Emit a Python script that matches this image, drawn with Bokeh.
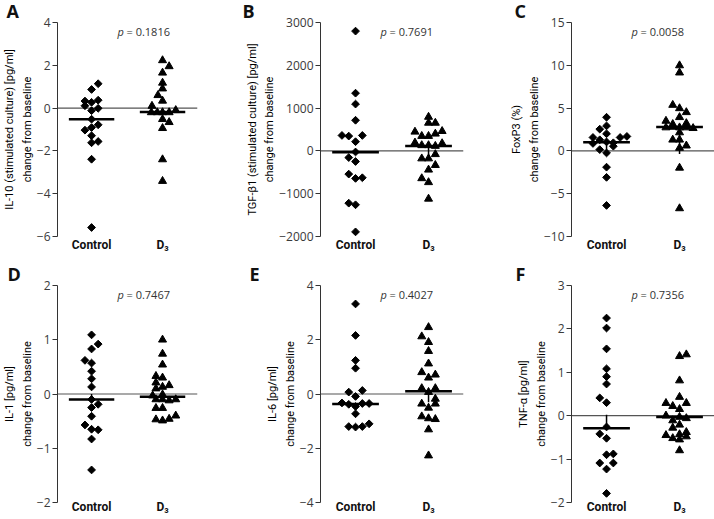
import math
from bokeh.plotting import figure
from bokeh.models import Range1d, FixedTicker, Span, Label, Title
from bokeh.layouts import column, row
from bokeh.embed import file_html
from bokeh.resources import INLINE

NAN = float("nan")
GROUPS = ["Control", "D\u2083"]

# ---- Panel A: IL-10 (stimulated culture)
A_ctrl = [1.14, 0.87, 0.33, 0.27, 0.37, 0.11, -0.01, -0.12, -0.52, -0.78, -1.03, -0.91, -1.29, -1.62, -1.56, -2.39, -5.58]
A_ctrl_slot = [1, 0, -1, 0, 1, -1, 1, 0, 0, 1, -1, 0, 0, 0, 1, 0, 0]
A_d3 = [2.23, 1.95, 1.65, 1.18, 0.91, 0.60, 0.34, 0.10, -0.10, -0.20, -0.20, -0.20, -0.20, -0.52, -0.66, -0.94, -2.40, -3.41]
A_d3_slot = [0, 1, 0, 0, 0, -0.7, 0, -1.6, 2, -1.7, -0.8, 0, 1, 0, 1, 0, 0, 0]
A_median = [-0.52, -0.18]
A_bar_lo = [-0.25, NAN]
A_bar_hi = [0.05, NAN]
A_ticks = [-6, -4, -2, 0, 2, 4]
A_p = "0.1816"
A_title = "IL-10 (stimulated culture) [pg/ml]\nchange from baseline"

# ---- Panel B: TGF-beta1 (stimulated culture)
B_ctrl = [2799, 1349, 1094, 716, 361, 346, 361, 215, -25, -156, -248, -542, -642, -627, -1221, -1259, -1892]
B_ctrl_slot = [0, 0, 0, 0, -2, -1, 1, 0, 0, -1, 0, -1, 0, 1, -1, 0, 0]
B_d3 = [793, 654, 654, 446, 461, 346, 346, 400, 191, 176, 130, 130, 114, -79, -179, -179, -333, -441, -642, -734, -1120]
B_d3_slot = [0, 0, 1, -2, 2, -1, 0, 1, -2, 2, -1, 0, 1, 1, -1, 0, 1, 0, -1, 0, 0]
B_median = [-30, 114]
B_bar_lo = [NAN, -130]
B_bar_hi = [NAN, 114]
B_ticks = [-2000, -1000, 0, 1000, 2000, 3000]
B_p = "0.7691"
B_title = "TGF-\u03b21 (stimulated culture) [pg/ml]\nchange from baseline"

# ---- Panel C: FoxP3
C_ctrl = [3.93, 2.92, 2.54, 2.00, 1.57, 1.57, 1.69, 1.30, 1.05, 0.95, 0.87, 0.55, 0.15, -0.24, -1.90, -3.09, -6.37]
C_ctrl_slot = [0, 0, -1, 0, -2, 2, 3, -1, 0, 1, -2, 1, -1, 0, 0, 0, 0]
C_d3 = [9.98, 9.14, 5.36, 4.97, 4.51, 3.93, 3.50, 3.12, 3.23, 2.73, 2.80, 2.73, 2.73, 2.65, 2.15, 1.30, 1.30, 0.61, 0.34, -1.98, -6.72]
C_d3_slot = [0, 0, -1, 0, 1, 0, -2, -1, 1, -2, -1, 0, 1, 2, 0, -1, 0, 1, 0, 0, 0]
C_median = [1.0, 2.8]
C_bar_lo = [-0.4, -0.35]
C_bar_hi = [1.0, 2.8]
C_ticks = [-10, -5, 0, 5, 10, 15]
C_p = "0.0058"
C_title = "FoxP3 (%)\nchange from baseline"

# ---- Panel D: IL-1
D_ctrl = [1.09, 0.92, 0.83, 0.62, 0.57, 0.42, 0.28, 0.13, -0.10, -0.19, -0.25, -0.41, -0.57, -0.65, -0.66, -0.83, -1.40]
D_ctrl_slot = [0, 1, 0, -1, 0, 0, 0, 0, 0, 1, 0, 0, -1, 0, 1, 0, 0]
D_d3 = [1.00, 0.74, 0.54, 0.33, 0.30, 0.21, 0.16, 0.10, 0.13, -0.03, -0.01, -0.10, -0.10, -0.12, -0.10, -0.26, -0.26, -0.47, -0.49, -0.46, -0.40]
D_d3_slot = [0, 0, 0, -1, 0, -1, 1, -1, 0, -1.5, 0, -1, 0, 1, 2, -1, 0, -1, 0, 1, 2]
D_median = [-0.10, -0.05]
D_bar_lo = [-0.12, NAN]
D_bar_hi = [0.0, NAN]
D_ticks = [-2, -1, 0, 1, 2]
D_p = "0.7467"
D_title = "IL-1 [pg/ml]\nchange from baseline"

# ---- Panel E: IL-6
E_ctrl = [3.32, 2.16, 1.24, 0.95, 0.07, 0.13, -0.09, -0.33, -0.38, -0.35, -0.35, -0.46, -0.73, -1.20, -1.22, -1.20, -1.10]
E_ctrl_slot = [0, 0, 0, 0, -1, 1, 0, -2, -1, 1, 2, 0, 0, -1, 0, 1, 2]
E_d3 = [2.46, 2.12, 1.91, 1.58, 1.12, 0.80, 0.71, 0.60, 0.21, 0.21, 0.07, -0.18, -0.36, -0.36, -0.51, -0.83, -0.90, -0.93, -1.31, -2.27]
E_d3_slot = [0, -1, 0, 0, 0, -1, 1, 0, -1, 1, 0, 1, -1, 1, 0, -1, 0, 1, 0, 0]
E_median = [-0.37, 0.10]
E_bar_lo = [NAN, -0.3]
E_bar_hi = [NAN, 0.1]
E_ticks = [-4, -2, 0, 2, 4]
E_p = "0.4027"
E_title = "IL-6 [pg/ml]\nchange from baseline"

# ---- Panel F: TNF-alpha
F_ctrl = [2.25, 2.02, 1.54, 1.08, 0.90, 0.73, 0.41, 0.30, -0.26, -0.42, -0.52, -0.90, -0.88, -1.09, -1.09, -1.23, -1.79]
F_ctrl_slot = [0, 0, 0, 0, 0, 0, -1, 0, 0, -1, 0, 0, 1, -1, 1, 0, 0]
F_d3 = [1.37, 1.41, 0.81, 0.43, 0.29, 0.29, 0.22, 0.15, 0.00, -0.11, -0.03, -0.06, -0.21, -0.28, -0.45, -0.43, -0.38, -0.52, -0.55, -0.48, -0.80]
F_d3_slot = [0, 1, 0, 0, -2, 1, -1, 0, -2, -1, 0, 1, 0, -1, -2, 0, 1, -1, 0, 1, 0]
F_median = [-0.29, -0.03]
F_bar_lo = [-0.29, NAN]
F_bar_hi = [0.02, NAN]
F_ticks = [-2, -1, 0, 1, 2, 3]
F_p = "0.7356"
F_title = "TNF-\u03b1 [pg/ml]\nchange from baseline"

# ---------------- styling / layout constants
X0 = 0.52          # left edge of the x range (Control at 1, D3 at 2)
PX_PER_UNIT = 73.0
SLOT = 0.093       # horizontal spacing of side-by-side points
HALF = 0.32        # half-width of the median bar
SANS = "Open Sans"
NARROW = "Roboto"


def fmt(t):
    s = f"{t:g}"
    return s.replace("-", "\u2212")


def panel(letter, title, ticks, ctrl, ctrl_slot, d3, d3_slot, med, bar_lo, bar_hi, pval,
          width, height, left, right, top, bottom, letter_dx, cat_standoff):
    frame_w = width - left - right
    x_end = X0 + frame_w / PX_PER_UNIT
    p = figure(width=width, height=height,
               x_range=Range1d(X0, x_end), y_range=Range1d(ticks[0], ticks[-1]),
               output_backend="svg", toolbar_location=None,
               min_border_left=left, min_border_right=right,
               min_border_top=top, min_border_bottom=bottom)
    p.outline_line_color = None
    p.grid.visible = False
    p.background_fill_color = "white"
    p.border_fill_color = "white"

    # panel letter as the figure title
    p.title = Title(text=letter, align="left", offset=letter_dx, standoff=-4,
                    text_font=SANS, text_font_size="18px", text_font_style="bold",
                    text_color="#111111", vertical_align="top")

    # y axis
    ya = p.yaxis[0]
    ya.ticker = FixedTicker(ticks=ticks)
    ya.major_label_overrides = {t: fmt(t) for t in ticks}
    ya.minor_tick_line_color = None
    ya.major_tick_in = 0
    ya.major_tick_out = 5
    ya.axis_line_color = "#333333"
    ya.major_tick_line_color = "#333333"
    ya.major_label_text_font = SANS
    ya.major_label_text_font_size = "12px"
    ya.major_label_text_color = "#3a3a3a"
    ya.major_label_standoff = 2
    ya.axis_label = title
    ya.axis_label_text_font = NARROW
    ya.axis_label_text_font_size = "11px"
    ya.axis_label_text_font_style = "normal"
    ya.axis_label_text_color = "#000000"
    ya.axis_label_standoff = 0
    ya.axis_label_text_line_height = 1.35

    # x axis (categories)
    xa = p.xaxis[0]
    xa.ticker = FixedTicker(ticks=[1, 2])
    xa.major_label_overrides = {1: GROUPS[0], 2: GROUPS[1]}
    xa.axis_line_color = None
    xa.major_tick_line_color = None
    xa.minor_tick_line_color = None
    xa.major_tick_out = 0
    xa.major_label_standoff = cat_standoff
    xa.major_label_text_font = NARROW
    xa.major_label_text_font_style = "bold"
    xa.major_label_text_font_size = "12px"
    xa.major_label_text_color = "#111111"

    # zero line
    p.add_layout(Span(location=0, dimension="width", line_color="#555555",
                      line_width=1.2, level="underlay"))

    # small centre bars (partly hidden behind the points)
    p.segment(x0=[1, 2], x1=[1, 2], y0=bar_lo, y1=bar_hi, line_width=1.5,
              line_color="black")

    # points
    p.scatter(x=[1 + s * SLOT for s in ctrl_slot], y=ctrl, marker="square",
              angle=math.pi / 4, size=5.5, color="black")
    p.scatter(x=[2 + s * SLOT for s in d3_slot], y=d3, marker="triangle",
              size=8, color="black")

    # medians
    p.segment(x0=[1 - HALF, 2 - HALF], x1=[1 + HALF, 2 + HALF], y0=med, y1=med,
              line_width=2.5, line_color="black")

    # p value
    p.add_layout(Label(x=X0, y=ticks[-1], x_offset=60, y_offset=-9, text="p",
                       text_font=SANS, text_font_style="italic", text_font_size="11px",
                       text_color="#333333", text_baseline="middle", text_align="left"))
    p.add_layout(Label(x=X0, y=ticks[-1], x_offset=69, y_offset=-9, text="= " + pval,
                       text_font=SANS, text_font_size="11px",
                       text_color="#333333", text_baseline="middle", text_align="left"))
    return p


TOP_H, BOT_H = 260, 258
pa = panel("A", A_title, A_ticks, A_ctrl, A_ctrl_slot, A_d3, A_d3_slot, A_median, A_bar_lo, A_bar_hi, A_p,
           240, TOP_H, 53, 43, 20, 24, -51, 1)
pb = panel("B", B_title, B_ticks, B_ctrl, B_ctrl_slot, B_d3, B_d3_slot, B_median, B_bar_lo, B_bar_hi, B_p,
           234, TOP_H, 80, 11, 20, 24, -78, 1)
pc = panel("C", C_title, C_ticks, C_ctrl, C_ctrl_slot, C_d3, C_d3_slot, C_median, C_bar_lo, C_bar_hi, C_p,
           240, TOP_H, 97, 0, 20, 24, -57, 1)
pd = panel("D", D_title, D_ticks, D_ctrl, D_ctrl_slot, D_d3, D_d3_slot, D_median, D_bar_lo, D_bar_hi, D_p,
           240, BOT_H, 53, 43, 25, 16, -50, -3)
pe = panel("E", E_title, E_ticks, E_ctrl, E_ctrl_slot, E_d3, E_d3_slot, E_median, E_bar_lo, E_bar_hi, E_p,
           234, BOT_H, 80, 11, 25, 16, -71, -3)
pf = panel("F", F_title, F_ticks, F_ctrl, F_ctrl_slot, F_d3, F_d3_slot, F_median, F_bar_lo, F_bar_hi, F_p,
           240, BOT_H, 97, 0, 25, 16, -56, -3)

layout = column(row(pa, pb, pc), row(pd, pe, pf))
open("out.html", "w").write(file_html(layout, INLINE))
